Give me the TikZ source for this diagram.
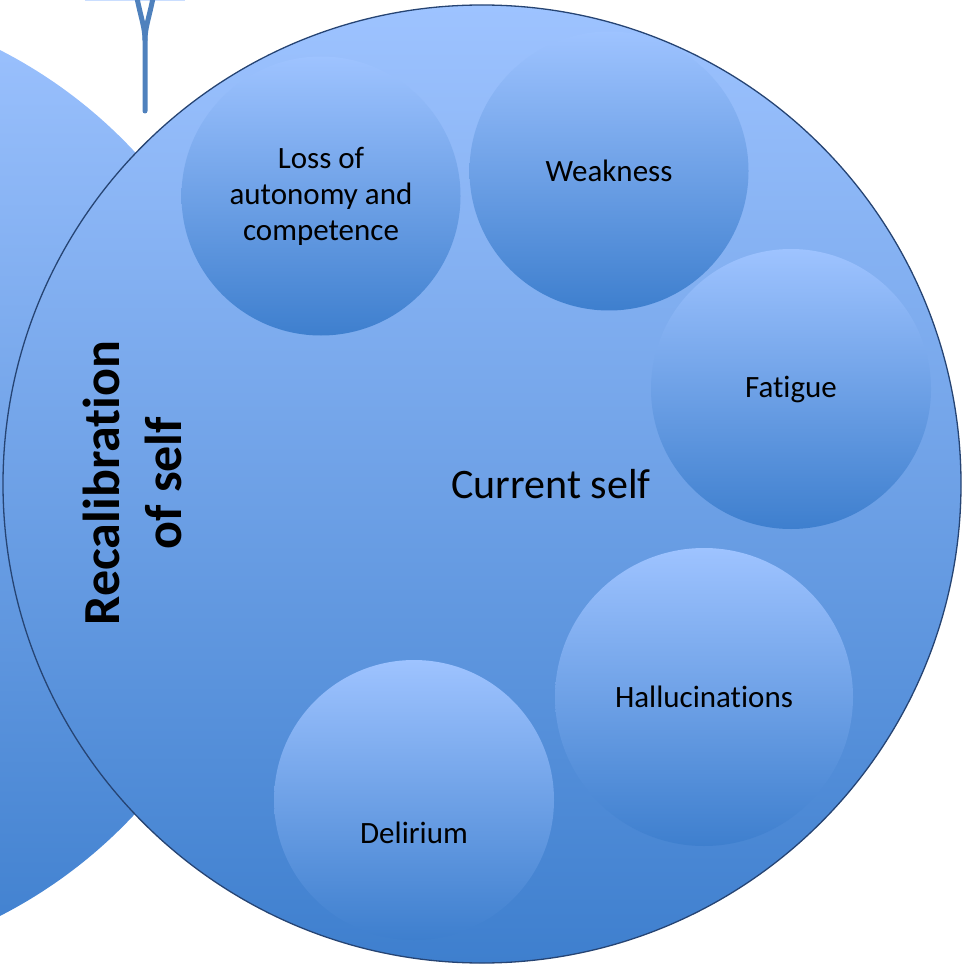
\documentclass[tikz,border=0pt]{standalone}
\usepackage{fontspec}
\setmainfont{Carlito}[Ligatures=CommonOff]
\begin{document}
\definecolor{skyTop}{RGB}{158,195,255}
\definecolor{skyBot}{RGB}{62,127,206}
\definecolor{rimBlue}{RGB}{38,68,115}
\definecolor{linkBlue}{RGB}{79,129,189}
\begin{tikzpicture}[x=1pt,y=-1pt,
  disc/.style={circle, inner sep=0pt, minimum size=#1,
    top color=skyTop, bottom color=skyBot},
  bubble/.style={disc=#1, align=center,
    font=\fontsize{31}{36}\selectfont},
  link/.style={draw=linkBlue, line width=5pt, line cap=round}
]
\clip (0,0) rectangle (971,965);

% outer ring partly hidden on the left
\node[disc=972pt] (outer) at (-221,483) {};

% stem coming down from the shape above
\fill[skyTop!55!white] (85,0) rectangle (185,1.0);
\coordinate (stemL) at (137,-2);
\coordinate (stemR) at (153,-2);
\coordinate (stemJ) at (145,40);
\coordinate (stemF) at (145,111);
\draw[link] (stemL) .. controls (141,18) and (145,28) .. (stemJ) -- (stemF);
\draw[link] (stemR) .. controls (149,18) and (145,28) .. (stemJ);

% the current self
\node[disc=958pt, draw=rimBlue, line width=1.3pt] (self) at (482,484) {};
\node[font=\fontsize{42}{50}\selectfont] (selflabel) at (551,484) {Current self};

% recalibration caption
\node[rotate=90, align=center, font=\bfseries\fontsize{52}{62}\selectfont]
  (recal) at (132,483) {Recalibration\\of self};

% symptoms
\node[bubble=279pt] (loss) at (321,196) {Loss of\\autonomy and\\competence};
\node[bubble=279pt] (weak) at (609,171) {Weakness};
\node[bubble=280pt] (fatigue) at (791,389) {Fatigue};
\node[bubble=298pt] (halluc) at (704,697) {Hallucinations};
\node[bubble=280pt] (delir) at (414,800) {};
\node[font=\fontsize{31}{36}\selectfont] (delirtext) at (414,833) {Delirium};
\end{tikzpicture}
\end{document}
